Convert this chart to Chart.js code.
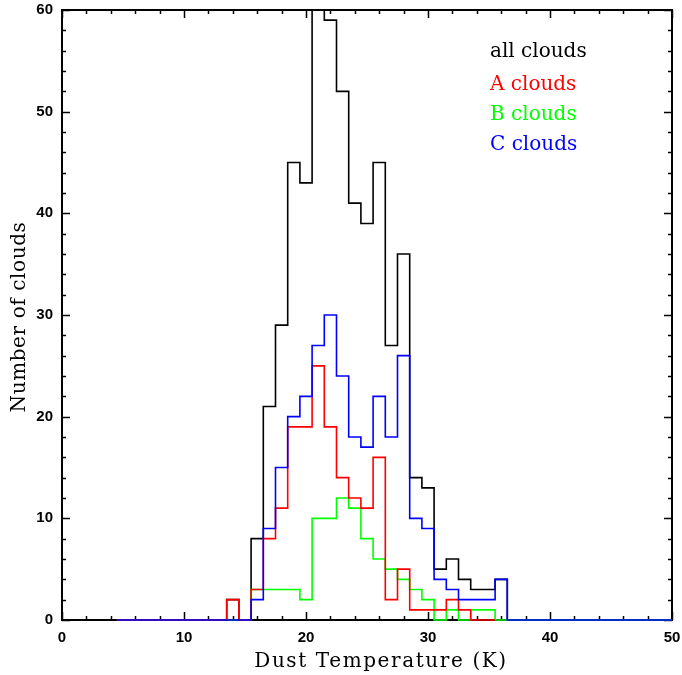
<!DOCTYPE html>
<html><head><meta charset="utf-8">
<script src="https://cdn.jsdelivr.net/npm/chart.js@4.4.1/dist/chart.umd.min.js"></script>
<style>html,body{margin:0;padding:0;background:#fff;overflow:hidden}#wrap{width:682px;height:675px;position:relative}</style>
</head><body><div id="wrap"><canvas id="c"></canvas></div>
<script>
// Bin centres (Dust temperature, K), 1 K wide bins; null = bin outside that histogram's range
const binCenters = [5,6,7,8,9,10,11,12,13,14,15,16,17,18,19,20,21,22,23,24,25,26,27,28,29,30,31,32,33,34,35,36,37,38,39,40,41,42,43,44,45,46,47,48,49,50];
const allClouds = [0,0,0,0,0,0,0,0,0, 2,0,8,21,29,45,43,64,59,52,41,39,45,27,36,14,13,5,6,4,3,3,4, 0,0,0,0,0,0,0,0,0,0,0,0,0,0];
const aClouds   = [0,0,0,0,0,0,0,0,0, 2,0,3,8,11,19,19,25,19,14,12,11,16,2,5,1,1,1,2,1,0,0,null, null,null,null,null,null,null,null,null,null,null,null,null,null,null];
const bClouds   = [0,0,0,0,0,0,0,0,0, 0,0,3,3,3,3,2,10,10,12,11,8,6,5,4,3,2,0,1,0,1,1,0, 0,0,0,0,0,0,0,0,0,0,0,0,0,0];
const cClouds   = [0,0,0,0,0,0,0,0,0, 0,0,2,9,15,20,22,27,30,24,18,17,22,18,26,10,9,4,3,2,2,2,4, 0,0,0,0,0,0,0,0,0,0,0,0,0,0];
const seriesNames = ['all clouds','A clouds','B clouds','C clouds'];
const xTickLabels = [0,10,20,30,40,50];
const yTickLabels = [0,10,20,30,40,50,60];
const xTitle = 'Dust Temperature (K)';
const yTitle = 'Number of clouds';

const colors = ['#000000','#ff0000','#00ff00','#0000ff'];
const drawOrder = [3,1,2,0];

function histPoints(vals){
  const pts = [];
  let last = -1;
  binCenters.forEach((c,i)=>{ if(vals[i]!==null){ pts.push({x:c-0.5,y:vals[i]}); last=i; } });
  pts.push({x:binCenters[last]+0.5,y:vals[last]});
  return pts;
}
const seriesVals = [allClouds,aClouds,bClouds,cClouds];
const datasets = seriesVals.map((v,i)=>({
  label: seriesNames[i],
  data: histPoints(v),
  borderColor: colors[i],
  backgroundColor: colors[i],
  borderWidth: 1.6,
  pointRadius: 0,
  stepped: 'before',
  fill: false,
  order: drawOrder[i],
  clip: {left:0,top:0,right:0,bottom:3}
}));

const framePlugin = {
  id:'frame',
  beforeDatasetsDraw(chart){
    const {ctx, chartArea:a, scales:{x,y}} = chart;
    ctx.save();
    ctx.strokeStyle='#000';
    ctx.lineWidth=2;
    ctx.strokeRect(a.left,a.top,a.right-a.left,a.bottom-a.top);
    ctx.lineWidth=1.5;
    ctx.beginPath();
    for(let v=x.min; v<=x.max; v+=2){
      const p=Math.round(x.getPixelForValue(v))+0.5, L=(v%10===0)?8:4;
      ctx.moveTo(p,a.bottom); ctx.lineTo(p,a.bottom-L);
      ctx.moveTo(p,a.top); ctx.lineTo(p,a.top+L);
    }
    for(let v=y.min; v<=y.max; v+=2){
      const p=Math.round(y.getPixelForValue(v))+0.5, L=(v%10===0)?8:4;
      ctx.moveTo(a.left,p); ctx.lineTo(a.left+L,p);
      ctx.moveTo(a.right,p); ctx.lineTo(a.right-L,p);
    }
    ctx.stroke();
    ctx.restore();
  },
  afterDraw(chart){
    const {ctx, chartArea:a} = chart;
    ctx.save();
    ctx.font = '20px "DejaVu Serif"';
    ctx.textAlign='left'; ctx.textBaseline='alphabetic';
    const baseY=[57,89.5,119.5,149.5];
    seriesNames.forEach((n,i)=>{ ctx.fillStyle=colors[i]; ctx.fillText(n,490,baseY[i]); });
    ctx.fillStyle='#000';
    ctx.textAlign='center';
    ctx.letterSpacing='1.6px';
    ctx.fillText(xTitle,381,667);
    ctx.letterSpacing='0.6px';
    ctx.translate(25,(a.top+a.bottom)/2+2);
    ctx.rotate(-Math.PI/2);
    ctx.fillText(yTitle,0,0);
    ctx.restore();
  }
};

function noPad(s){ s.paddingLeft=0; s.paddingRight=0; s.paddingTop=0; s.paddingBottom=0; }
const tickFont = {family:'"Liberation Sans", Arial, sans-serif', weight:'bold', size:15};
new Chart(document.getElementById('c'),{
  type:'line',
  data:{datasets},
  options:{
    responsive:true, maintainAspectRatio:false, animation:false,
    layout:{padding:{top:10,right:10,left:0,bottom:0}},
    plugins:{legend:{display:false},tooltip:{enabled:false}},
    scales:{
      x:{type:'linear',min:0,max:50,
        grid:{display:false,drawTicks:false},border:{display:false},
        afterBuildTicks:s=>{s.ticks=xTickLabels.map(v=>({value:v}));},
        afterFit:s=>{s.height=55; noPad(s);},
        ticks:{font:tickFont,color:'#000',padding:9,maxRotation:0,autoSkip:false}},
      y:{type:'linear',min:0,max:60,
        grid:{display:false,drawTicks:false},border:{display:false},
        afterBuildTicks:s=>{s.ticks=yTickLabels.map(v=>({value:v}));},
        afterFit:s=>{s.width=62; noPad(s);},
        ticks:{font:tickFont,color:'#000',padding:9,autoSkip:false}}
    }
  },
  plugins:[framePlugin]
});
</script></body></html>
